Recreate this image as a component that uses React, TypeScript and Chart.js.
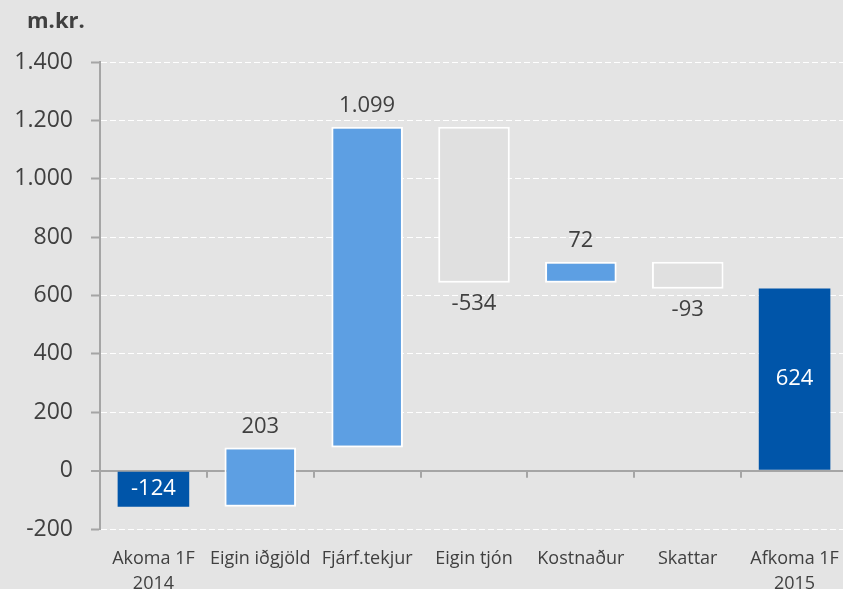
import { useEffect, useRef } from 'react';
import { Chart, registerables } from 'chart.js';

Chart.register(...registerables);

const categories: (string | string[])[] = [
  ['Akoma 1F', '2014'],
  'Eigin iðgjöld',
  'Fjárf.tekjur',
  'Eigin tjón',
  'Kostnaður',
  'Skattar',
  ['Afkoma 1F', '2015'],
];
const changes = [-124, 203, 1099, -534, 72, -93, 624];
const kinds = ['total', 'step', 'step', 'step', 'step', 'step', 'total'];
const yMin = -200;
const yMax = 1400;
const yStep = 200;
const unitLabel = 'm.kr.';

const COLOR_TOTAL = '#0055a9';
const COLOR_UP = '#5d9fe3';
const COLOR_DOWN = '#e0e0e0';
const TEXT = '#404040';
const AXIS = '#a5a5a5';
const BG = '#e4e4e4';

function fmt(v: number): string {
  const s = Math.abs(v).toString().replace(/\B(?=(\d{3})+(?!\d))/g, '.');
  return (v < 0 ? '-' : '') + s;
}

export default function App() {
  const ref = useRef<HTMLCanvasElement | null>(null);

  useEffect(() => {
    if (!ref.current) return;
    let run = 0;
    const ranges = changes.map((c, i) => {
      if (kinds[i] === 'total') {
        run = c;
        return [0, c];
      }
      const r = [run, run + c];
      run += c;
      return r;
    });
    const bg = changes.map((c, i) => (kinds[i] === 'total' ? COLOR_TOTAL : c > 0 ? COLOR_UP : COLOR_DOWN));
    const bw = changes.map((c, i) => (kinds[i] === 'total' ? 0 : 2));

    const labelPlugin = {
      id: 'wfLabels',
      beforeDatasetsDraw(chart: any) {
        const xs = chart.scales.x;
        const ys = chart.scales.y;
        const y0 = ys.getPixelForValue(0);
        const ctx = chart.ctx;
        ctx.save();
        ctx.strokeStyle = AXIS;
        ctx.lineWidth = 2;
        ctx.beginPath();
        for (let i = 1; i <= categories.length; i++) {
          const x = Math.round(xs.getPixelForValue(i - 0.5));
          ctx.moveTo(x, y0);
          ctx.lineTo(x, y0 + 7);
        }
        ctx.stroke();
        ctx.restore();
      },
      afterDatasetsDraw(chart: any) {
        const ctx = chart.ctx;
        const meta = chart.getDatasetMeta(0);
        ctx.save();
        ctx.font = '22px "Open Sans"';
        ctx.textAlign = 'center';
        ctx.textBaseline = 'middle';
        meta.data.forEach((el: any, i: number) => {
          const { x, y, base } = el.getProps(['x', 'y', 'base'], true);
          const top = Math.min(y, base);
          const bottom = Math.max(y, base);
          let ty: number;
          if (kinds[i] === 'total') {
            ty = (top + bottom) / 2;
            ctx.fillStyle = '#ffffff';
          } else if (changes[i] > 0) {
            ty = top - 21;
            ctx.fillStyle = TEXT;
          } else {
            ty = bottom + 21;
            ctx.fillStyle = TEXT;
          }
          ctx.fillText(fmt(changes[i]), x, ty);
        });
        ctx.font = 'bold 22px "Open Sans"';
        ctx.fillStyle = TEXT;
        ctx.textAlign = 'left';
        ctx.textBaseline = 'alphabetic';
        ctx.fillText(unitLabel, 27, 28);
        ctx.restore();
      },
    };

    const chart = new Chart(ref.current, {
      type: 'bar',
      data: {
        labels: categories as any,
        datasets: [
          {
            data: ranges as any,
            backgroundColor: bg,
            borderColor: '#ffffff',
            borderWidth: bw,
            borderSkipped: false,
            categoryPercentage: 1,
            barPercentage: 0.67,
          },
        ],
      },
      options: {
        responsive: false,
        animation: false,
        layout: { padding: { top: 62, right: 12, left: 0, bottom: 0 } },
        plugins: { legend: { display: false }, tooltip: { enabled: false } },
        scales: {
          x: {
            grid: { display: false },
            border: { display: false },
            afterFit: (s: any) => {
              s.height = 60;
            },
            ticks: {
              autoSkip: false,
              maxRotation: 0,
              minRotation: 0,
              padding: 9,
              color: TEXT,
              font: { family: '"Open Sans"', size: 18, lineHeight: 25 / 18 },
            },
          },
          y: {
            min: yMin,
            max: yMax,
            afterFit: (s: any) => {
              s.width = 100;
            },
            ticks: {
              stepSize: yStep,
              padding: 18,
              color: TEXT,
              font: { family: '"Open Sans"', size: 23 },
              callback: (v: any) => fmt(Number(v)),
            },
            grid: {
              color: (c: any) => (c.tick && c.tick.value === 0 ? AXIS : '#ffffff'),
              lineWidth: (c: any) => (c.tick && c.tick.value === 0 ? 2 : 1),
              tickColor: AXIS,
              tickWidth: 2,
              tickLength: 9,
            },
            border: {
              display: true,
              color: AXIS,
              width: 2,
              dash: (c: any) => (c.tick && c.tick.value !== 0 ? [6, 3] : []),
            } as any,
          },
        },
      },
      plugins: [labelPlugin],
    });
    return () => chart.destroy();
  }, []);

  return (
    <div
      style={{
        position: 'fixed',
        left: 0,
        top: 0,
        width: 843,
        height: 589,
        overflow: 'hidden',
        background: BG,
      }}
    >
      <canvas ref={ref} width={860} height={589} style={{ display: 'block' }} />
    </div>
  );
}
